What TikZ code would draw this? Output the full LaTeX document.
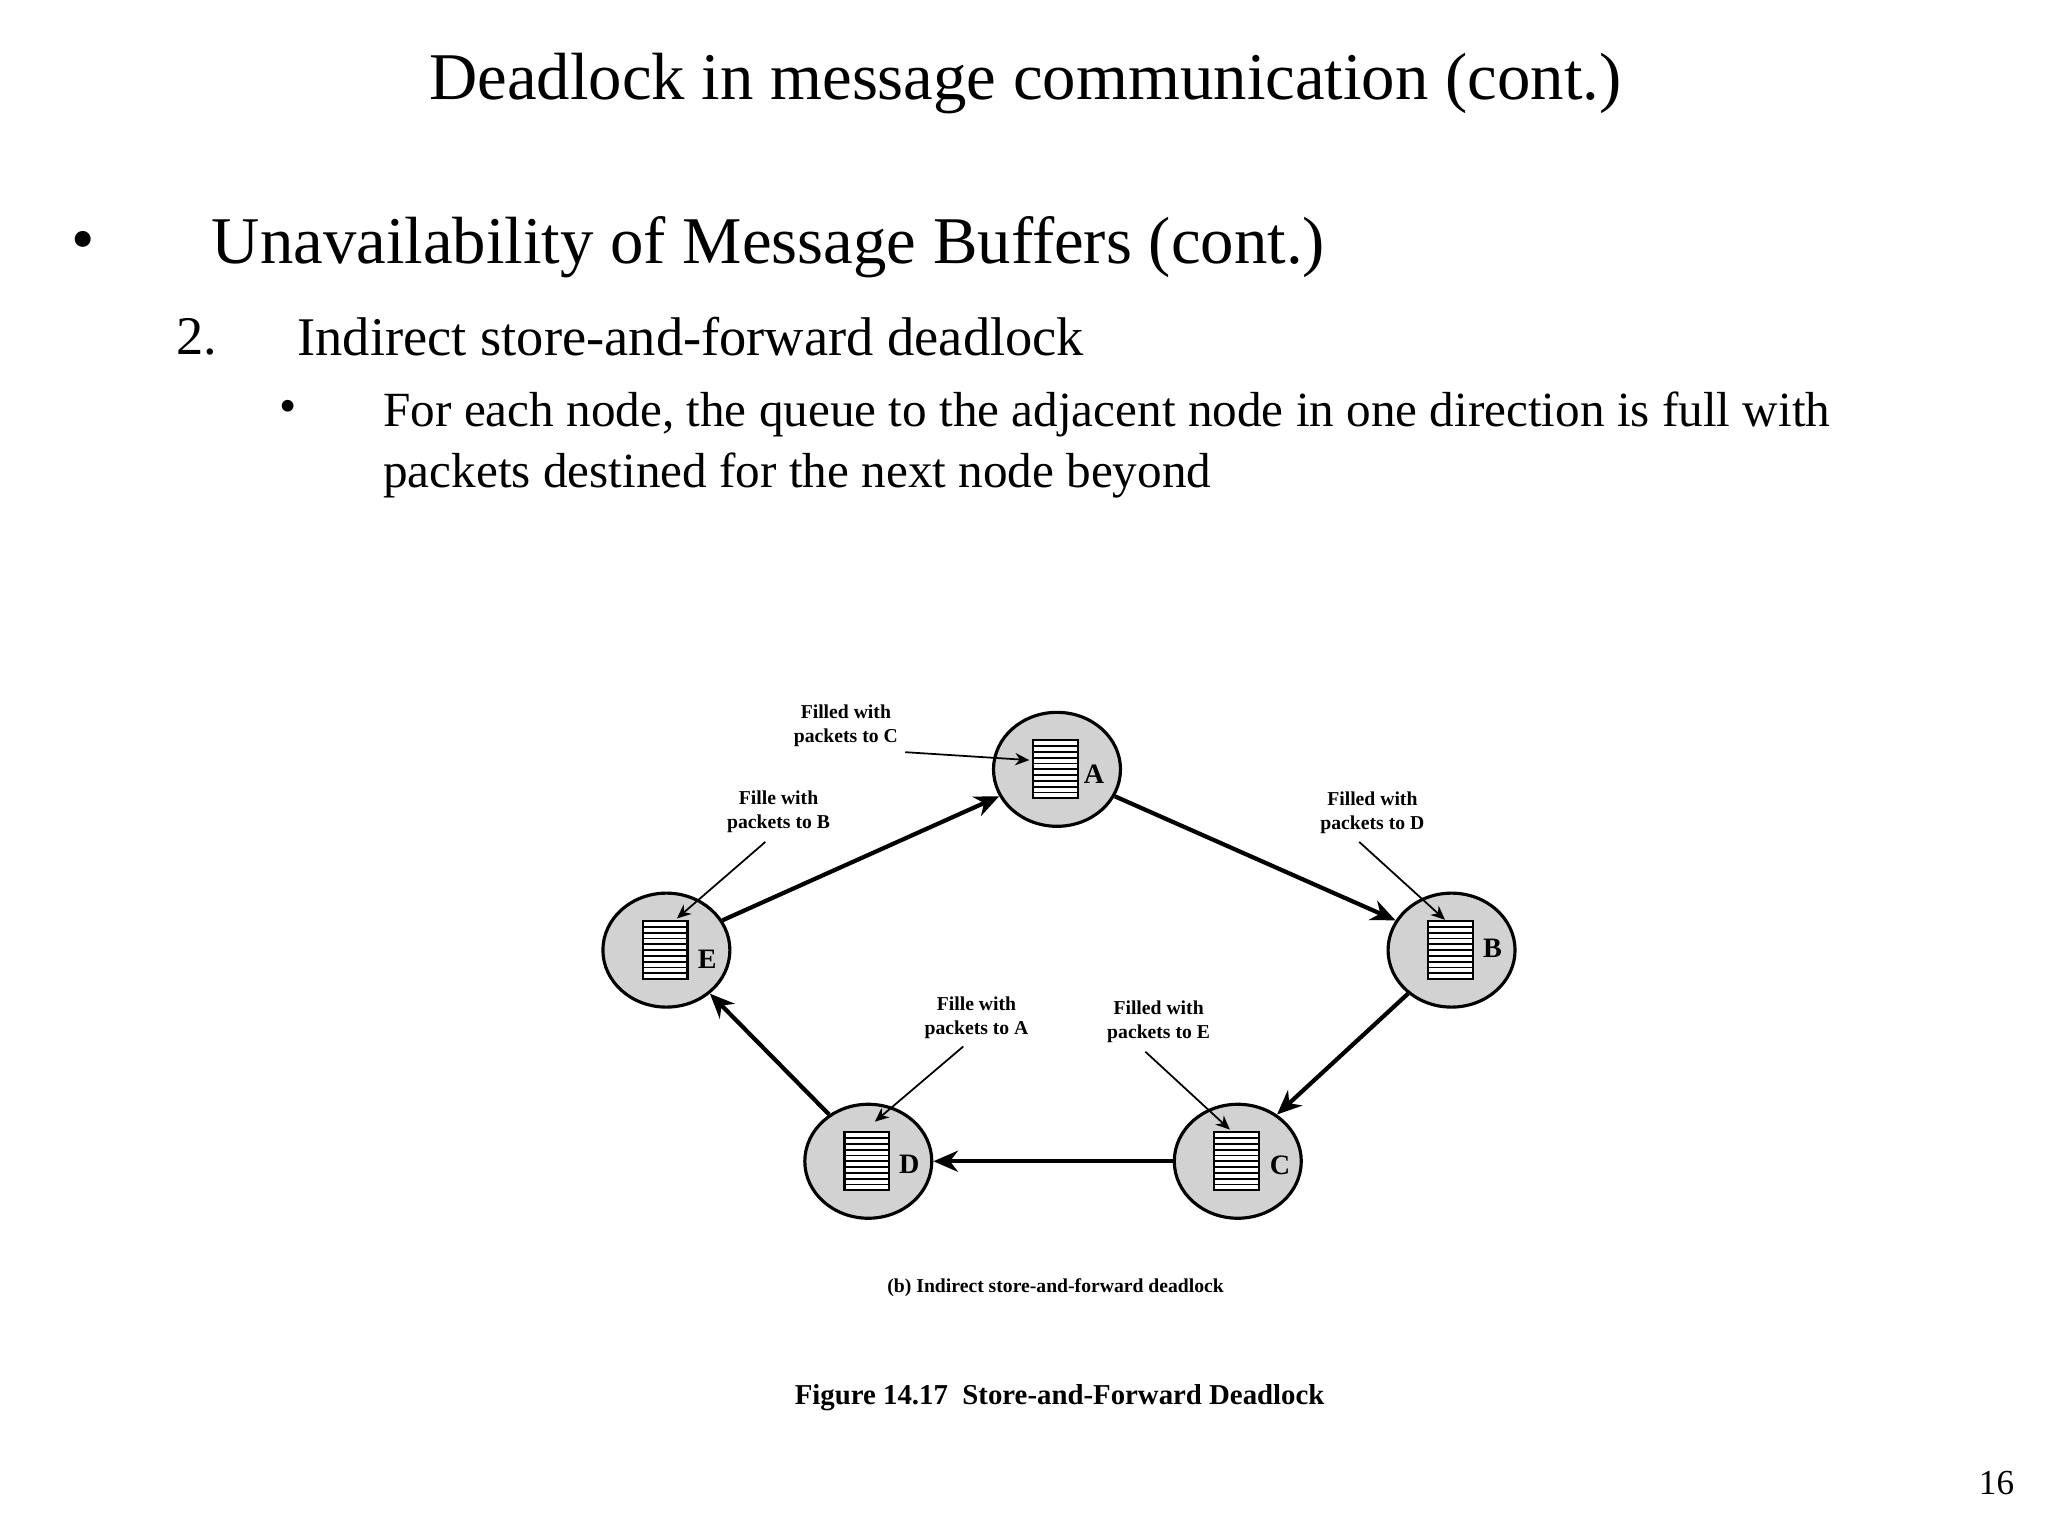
\documentclass[tikz,border=0pt]{standalone}
\usepackage{fontspec}
\setmainfont{Liberation Serif}
\usetikzlibrary{shapes.geometric,arrows.meta}
\begin{document}
\begin{tikzpicture}[x=0.0132cm,y=-0.0132cm,
  nd/.style={ellipse,draw=black,line width=0.9pt,fill=gray!35,minimum width=96\pgflinewidth,minimum height=86\pgflinewidth,inner sep=0},
  ndc/.style={ellipse,draw=black,line width=0.9pt,fill=gray!35,minimum width=1.27cm,minimum height=1.14cm,inner sep=0},
  lbl/.style={font=\fontsize{8}{9}\selectfont\bfseries,inner sep=0},
  note/.style={font=\fontsize{5.6}{6.8}\selectfont\bfseries,align=center,inner sep=0},
  main/.style={-{Stealth[length=7pt,width=6pt]},line width=1.2pt},
  ptr/.style={-{Stealth[length=4pt,width=3.5pt]},line width=0.5pt}]
\useasboundingbox (0,0) rectangle (1552,1164);
\node[font=\fontsize{19}{22}\selectfont] (title) at (777,63) {Deadlock in message communication (cont.)};
\node[font=\fontsize{19}{22}\selectfont] (b1) at (63,187) {•};
\node[font=\fontsize{19}{22}\selectfont,anchor=west,inner sep=0] (t1) at (160,187) {Unavailability of Message Buffers (cont.)};
\node[font=\fontsize{15.5}{18}\selectfont,anchor=west,inner sep=0] (n2) at (133,255) {2.};
\node[font=\fontsize{15.5}{18}\selectfont,anchor=west,inner sep=0] (t2) at (225,255) {Indirect store-and-forward deadlock};
\node[font=\fontsize{14}{17}\selectfont,anchor=west,inner sep=0] (b3) at (211,312) {•};
\node[font=\fontsize{14}{17}\selectfont,anchor=west,inner sep=0] (t3) at (290,314) {For each node, the queue to the adjacent node in one direction is full with};
\node[font=\fontsize{14}{17}\selectfont,anchor=west,inner sep=0] (t4) at (290,360) {packets destined for the next node beyond};

\node[ndc] (A) at (801,583) {};
\node[ndc] (E) at (505,720) {};
\node[ndc] (B) at (1100,720) {};
\node[ndc] (D) at (658,880) {};
\node[ndc] (C) at (938,880) {};
\foreach \n/\dx in {A/0,E/0,B/0,D/0,C/0}{
  \begin{scope}[shift={(\n)}]
    \draw[fill=white,line width=0.6pt] (-18,-22) rectangle (16,22);
    \foreach \k in {1,...,9} \draw[line width=0.5pt] (-18,-22+\k*4.4) -- (16,-22+\k*4.4);
  \end{scope}}
\node[lbl] (la) at (829,587) {A};
\node[lbl] (le) at (536,727) {E};
\node[lbl] (lb) at (1131,719) {B};
\node[lbl] (ld) at (689,882) {D};
\node[lbl] (lc) at (970,883) {C};

\draw[main] (E.28) -- (A.205);
\draw[main] (A.-25) -- (B.152);
\draw[main] (B.-135) -- (C.50);
\draw[main] (C.west) -- (D.east);
\draw[main] (D.130) -- (E.-45);

\node[note] (nC) at (641,550) {Filled with\\packets to C};
\node[note] (nB) at (590,615) {Fille with\\packets to B};
\node[note] (nD) at (1040,616) {Filled with\\packets to D};
\node[note] (nA) at (740,771) {Fille with\\packets to A};
\node[note] (nE) at (878,774) {Filled with\\packets to E};
\coordinate (qA) at (780,576);
\coordinate (qE) at (513,696);
\coordinate (qB) at (1095,697);
\coordinate (qD) at (663,850);
\coordinate (qC) at (932,856);
\draw[ptr] (686,570) -- (qA);
\draw[ptr] (580,638) -- (qE);
\draw[ptr] (1030,638) -- (qB);
\draw[ptr] (730,793) -- (qD);
\draw[ptr] (868,797) -- (qC);

\node[note] (cap) at (800,976) {(b) Indirect store-and-forward deadlock};
\node[font=\fontsize{8.2}{10}\selectfont\bfseries,inner sep=0] (fig) at (803,1059) {Figure 14.17\ \ Store-and-Forward Deadlock};
\node[font=\fontsize{10}{12}\selectfont,inner sep=0] (pg) at (1513,1124) {16};
\end{tikzpicture}
\end{document}
